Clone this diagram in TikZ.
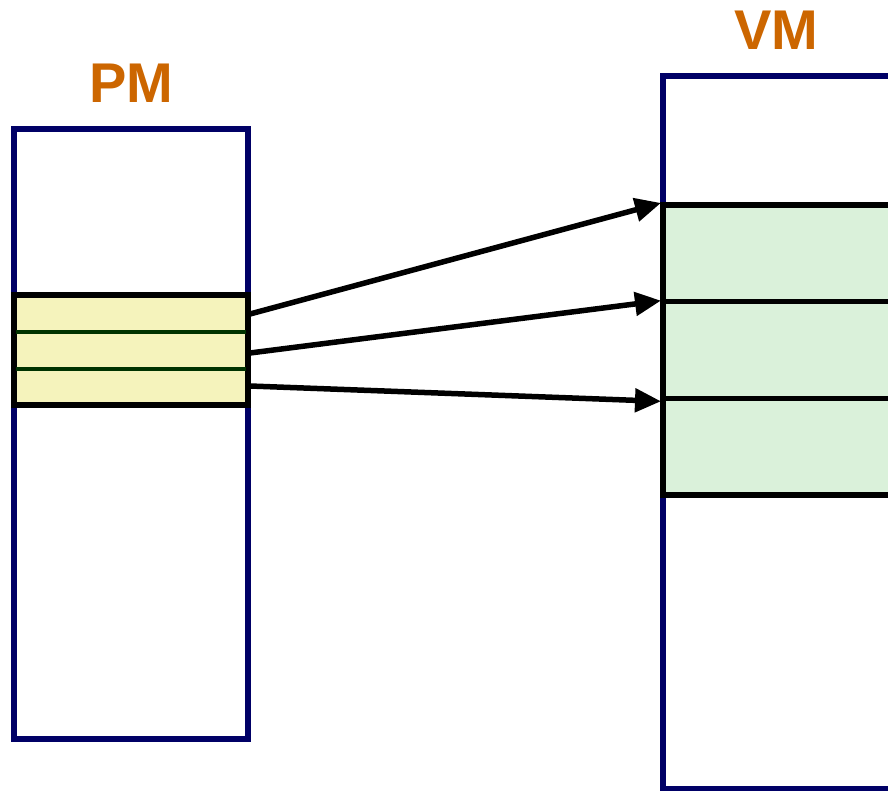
\documentclass[tikz,border=0pt]{standalone}
\usepackage{fontspec}
\newfontfamily\labelfont{Liberation Sans}
\usetikzlibrary{positioning,calc,arrows.meta}

\definecolor{memblue}{RGB}{0,0,102}
\definecolor{lblorange}{RGB}{204,102,0}
\definecolor{pagegold}{RGB}{245,243,188}
\definecolor{pagegreen}{RGB}{218,241,218}
\definecolor{divgreen}{RGB}{0,51,0}

\begin{document}
\begin{tikzpicture}[
  x=1pt, y=-1pt,
  membox/.style={rectangle, draw=memblue, line width=5.5pt, inner sep=0pt, outer sep=0pt},
  pmband/.style={rectangle, draw=black, fill=pagegold, line width=5.5pt, inner sep=0pt,
                 outer sep=0pt, minimum width=234pt, minimum height=110pt},
  vmrow/.style={rectangle, draw=black, fill=pagegreen, line width=5.5pt, inner sep=0pt,
                outer sep=0pt, minimum width=232pt, minimum height=96.67pt},
  lbl/.style={font=\labelfont\bfseries\fontsize{56}{60}\selectfont, text=lblorange,
              inner sep=0pt},
  maparr/.style={-{Triangle[length=26pt,width=23pt]}, line width=5.5pt}
]
\useasboundingbox (0,0) rectangle (888,791);

% Physical memory on the left, virtual memory on the right (cut by the page edge).
\node[membox, minimum width=234pt, minimum height=610pt] (pm) at (131,434) {};
\node[membox, minimum width=232pt, minimum height=713pt] (vm) at (779,432.5) {};

\node[lbl, above=26pt of pm] (pmlbl) {PM};
\node[lbl, above=26pt of vm, xshift=-3pt] (vmlbl) {VM};

% The page in PM, split in three slices.
\node[pmband] (pmpage) at (131,350) {};
\draw[divgreen, line width=4pt] ($(pmpage.north west)+(2,37)$) -- ($(pmpage.north east)+(-2,37)$);
\draw[divgreen, line width=4pt] ($(pmpage.north west)+(2,74)$) -- ($(pmpage.north east)+(-2,74)$);

% Three pages in VM, one below the other.
\node[vmrow] (vp1) at (779,253.3) {};
\node[vmrow, below=0pt of vp1] (vp2) {};
\node[vmrow, below=0pt of vp2] (vp3) {};

% Each slice maps to a page in VM.
\coordinate (s1) at ($(pmpage.north east)+(2,19)$);
\coordinate (s2) at ($(pmpage.north east)+(2,58)$);
\coordinate (s3) at ($(pmpage.north east)+(2,91)$);
\draw[maparr] (s1) -- ($(vp1.north west)+(-2,-2)$);
\draw[maparr] (s2) -- ($(vp2.north west)+(-2,-1)$);
\draw[maparr] (s3) -- ($(vp3.north west)+(-2,3)$);

\end{tikzpicture}
\end{document}
